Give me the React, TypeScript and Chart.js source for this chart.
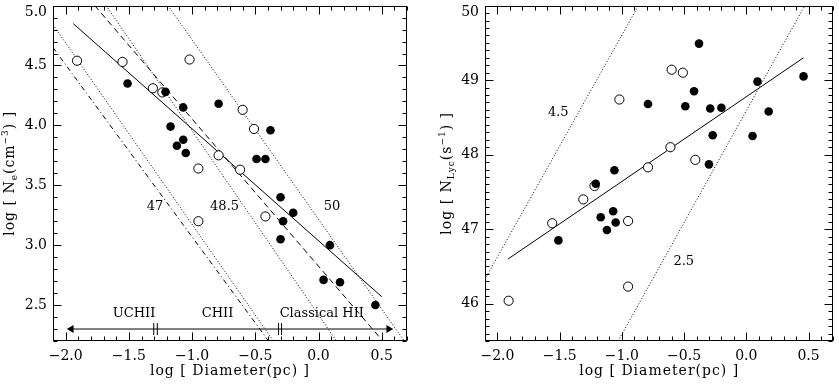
import React, { useEffect, useRef } from "react";
import { Chart, registerables } from "chart.js";

Chart.register(...registerables);

const FONT = "'DejaVu Serif', serif";

// ---------- shared axis ----------
const xTicks = [-2.0, -1.5, -1.0, -0.5, 0.0, 0.5];
const X_MIN = -2.1;
const X_MAX = 0.7;

// ---------- left panel: log Diameter vs log Ne ----------
const leftYTicks = [2.5, 3.0, 3.5, 4.0, 4.5, 5.0];
const leftFilledX = [-1.51, -1.21, -1.07, -0.79, -1.17, -1.07, -1.12, -1.05, -0.38, -0.49, -0.42, -0.30, -0.20, -0.28, -0.30, 0.09, 0.04, 0.17, 0.45];
const leftFilledY = [4.35, 4.28, 4.15, 4.18, 3.99, 3.88, 3.83, 3.77, 3.96, 3.72, 3.72, 3.40, 3.27, 3.20, 3.05, 3.00, 2.71, 2.69, 2.50];
const leftOpenX = [-1.91, -1.55, -1.31, -1.235, -1.02, -0.60, -0.51, -0.79, -0.95, -0.62, -0.95, -0.42];
const leftOpenY = [4.54, 4.53, 4.31, 4.275, 4.55, 4.13, 3.97, 3.75, 3.64, 3.63, 3.20, 3.24];
const leftFitX = [-1.94, 0.50];
const leftFitY = [4.85, 2.57];
const leftDashedX = [-1.77, 0.50];
const leftDashedY = [5.0, 2.21];
const leftDashDotX = [-2.1, -0.395];
const leftDashDotY = [4.65, 2.2];
const line47X = [-2.1, -0.357];
const line47Y = [4.84, 2.2];
const line485X = [-1.68, 0.142];
const line485Y = [5.0, 2.2];
const line50X = [-1.19, 0.678];
const line50Y = [5.0, 2.2];
const arrowX = [-1.955, 0.555];
const arrowY = [2.30, 2.30];
const sepX = [-1.303, -1.275, -0.316, -0.292];
const sepY = [2.25, 2.35];
const leftLabelText = ["47", "48.5", "50", "UCHII", "CHII", "Classical HII"];
const leftLabelX = [-1.293, -0.743, 0.107, -1.459, -0.799, 0.026];
const leftLabelY = [3.32, 3.32, 3.32, 2.43, 2.43, 2.43];

// ---------- right panel: log Diameter vs log N_Lyc ----------
const rightYTicks = [46, 47, 48, 49, 50];
const rightFilledX = [-0.38, -0.79, -0.42, -0.49, -0.29, -0.20, -0.27, 0.09, 0.46, 0.18, 0.05, -0.30, -1.06, -1.21, -1.51, -1.17, -1.07, -1.12, -1.05];
const rightFilledY = [49.49, 48.68, 48.85, 48.65, 48.62, 48.63, 48.26, 48.98, 49.05, 48.58, 48.25, 47.87, 47.79, 47.61, 46.85, 47.16, 47.24, 46.99, 47.09];
const rightOpenX = [-0.60, -0.51, -1.02, -0.61, -0.79, -0.41, -1.22, -1.31, -1.56, -0.95, -0.95, -1.91];
const rightOpenY = [49.14, 49.10, 48.74, 48.10, 47.83, 47.93, 47.58, 47.40, 47.08, 47.11, 46.23, 46.04];
const rightFitX = [-1.915, 0.46];
const rightFitY = [46.60, 49.30];
const line45X = [-2.1, -0.867];
const line45Y = [46.33, 50.0];
const line25X = [-1.03, 0.47];
const line25Y = [45.5, 50.0];
const rightLabelText = ["4.5", "2.5"];
const rightLabelX = [-1.511, -0.503];
const rightLabelY = [48.56, 46.56];

type Seg = { t: string; k?: "sub" | "sup" };

const pts = (xs: number[], ys: number[]) => xs.map((x, i) => ({ x, y: ys[i] }));

const fmt = (v: number, d: number) => {
  const s = Math.abs(v).toFixed(d);
  return v < -1e-9 ? "\u2212" + s : s;
};

function lineDs(xs: number[], ys: number[], dash: number[]) {
  return {
    data: pts(xs, ys),
    showLine: true,
    pointRadius: 0,
    borderColor: "#000",
    borderWidth: 1,
    borderDash: dash,
    fill: false,
    clip: 0,
    order: 5,
  };
}

function pointDs(xs: number[], ys: number[], filled: boolean) {
  return {
    data: pts(xs, ys),
    showLine: false,
    pointRadius: filled ? 4.3 : 4.6,
    pointBackgroundColor: filled ? "#000" : "#fff",
    pointBorderColor: "#000",
    pointBorderWidth: filled ? 0 : 1,
    order: filled ? 0 : 1,
  };
}

interface Panel {
  yMin: number;
  yMax: number;
  yTicks: number[];
  yMajor: number;
  yMinor: number;
  yDec: number;
  yAxisWidth: number;
  padRight: number;
  yTitle: Seg[];
  yTitleX: number;
  datasets: any[];
  labels: { t: string[]; x: number[]; y: number[] };
}

function drawRotTitle(ctx: CanvasRenderingContext2D, segs: Seg[], cx: number, cy: number, size: number) {
  ctx.save();
  ctx.translate(cx, cy);
  ctx.rotate(-Math.PI / 2);
  const small = Math.round(size * 0.62);
  const fonts = segs.map((s) => (s.k ? `${small}px ${FONT}` : `${size}px ${FONT}`));
  const widths = segs.map((s, i) => {
    ctx.font = fonts[i];
    return ctx.measureText(s.t).width;
  });
  const total = widths.reduce((a, b) => a + b, 0);
  let x = -total / 2;
  const base = size * 0.35;
  ctx.fillStyle = "#000";
  ctx.textAlign = "left";
  ctx.textBaseline = "alphabetic";
  segs.forEach((s, i) => {
    ctx.font = fonts[i];
    let y = base;
    if (s.k === "sub") y = base + size * 0.22;
    if (s.k === "sup") y = base - size * 0.45;
    ctx.fillText(s.t, x, y);
    x += widths[i];
  });
  ctx.restore();
}

function panelPlugin(p: Panel) {
  return {
    id: "panelDecor",
    afterDatasetsDraw(chart: any) {
      const { ctx } = chart;
      const xs = chart.scales.x;
      const ys = chart.scales.y;
      ctx.save();
      ctx.fillStyle = "#000";
      ctx.font = `13px ${FONT}`;
      ctx.textAlign = "center";
      ctx.textBaseline = "middle";
      p.labels.t.forEach((t, i) => {
        ctx.fillText(t, xs.getPixelForValue(p.labels.x[i]), ys.getPixelForValue(p.labels.y[i]));
      });
      ctx.restore();
    },
    afterDraw(chart: any) {
      const { ctx, chartArea: a } = chart;
      const xs = chart.scales.x;
      const ys = chart.scales.y;
      ctx.save();
      ctx.strokeStyle = "#000";
      ctx.lineWidth = 1;
      const L = Math.round(a.left) + 0.5;
      const R = Math.round(a.right) - 0.5;
      const T = Math.round(a.top) + 0.5;
      const B = Math.round(a.bottom) - 0.5;
      ctx.strokeRect(L, T, R - L, B - T);
      ctx.beginPath();
      const xMinor = 0.1;
      const xMajor = 0.5;
      const nX = Math.round((X_MAX - X_MIN) / xMinor);
      for (let i = 0; i <= nX; i++) {
        const v = X_MIN + i * xMinor;
        const major = Math.abs(v / xMajor - Math.round(v / xMajor)) < 1e-6;
        const len = major ? 8 : 4;
        const px = Math.round(xs.getPixelForValue(v)) + 0.5;
        ctx.moveTo(px, B);
        ctx.lineTo(px, B - len);
        ctx.moveTo(px, T);
        ctx.lineTo(px, T + len);
      }
      const nY = Math.round((p.yMax - p.yMin) / p.yMinor);
      for (let i = 0; i <= nY; i++) {
        const v = p.yMin + i * p.yMinor;
        const major = Math.abs(v / p.yMajor - Math.round(v / p.yMajor)) < 1e-6;
        const len = major ? 8 : 4;
        const py = Math.round(ys.getPixelForValue(v)) + 0.5;
        ctx.moveTo(L, py);
        ctx.lineTo(L + len, py);
        ctx.moveTo(R, py);
        ctx.lineTo(R - len, py);
      }
      ctx.stroke();
      // axis titles
      ctx.fillStyle = "#000";
      ctx.font = `14px ${FONT}`;
      (ctx as any).letterSpacing = "1px";
      ctx.textAlign = "center";
      ctx.textBaseline = "middle";
      ctx.fillText("log [ Diameter(pc) ]", (a.left + a.right) / 2, 371);
      drawRotTitle(ctx, p.yTitle, p.yTitleX, (a.top + a.bottom) / 2, 14);
      (ctx as any).letterSpacing = "0px";
      ctx.restore();
    },
  };
}

function makeChart(canvas: HTMLCanvasElement, p: Panel) {
  const tickFont = { family: FONT, size: 14, lineHeight: 1.0 };
  return new Chart(canvas, {
    type: "scatter",
    data: { datasets: p.datasets },
    options: {
      responsive: false,
      animation: false,
      devicePixelRatio: 1,
      events: [],
      layout: { padding: { left: 0, right: p.padRight, top: 1, bottom: 0 } },
      plugins: {
        legend: { display: false },
        tooltip: { enabled: false },
        title: { display: false },
      },
      scales: {
        x: {
          type: "linear",
          min: X_MIN,
          max: X_MAX,
          afterBuildTicks: (s: any) => {
            s.ticks = xTicks.map((v) => ({ value: v }));
          },
          afterFit: (s: any) => {
            s.height = 44;
            s.paddingLeft = 0;
            s.paddingRight = 0;
          },
          grid: { display: false, drawTicks: false },
          border: { display: false },
          ticks: {
            padding: 8,
            color: "#000",
            font: tickFont,
            maxRotation: 0,
            autoSkip: false,
            callback: (v: any) => fmt(Number(v), 1),
          },
        },
        y: {
          type: "linear",
          min: p.yMin,
          max: p.yMax,
          afterBuildTicks: (s: any) => {
            s.ticks = p.yTicks.map((v) => ({ value: v }));
          },
          afterFit: (s: any) => {
            s.width = p.yAxisWidth;
            s.paddingTop = 0;
            s.paddingBottom = 0;
          },
          grid: { display: false, drawTicks: false },
          border: { display: false },
          ticks: {
            padding: 6,
            color: "#000",
            font: tickFont,
            autoSkip: false,
            callback: (v: any) => {
              const s = fmt(Number(v), p.yDec);
              return Math.abs(Number(v) - p.yMax) < 1e-9 ? ["", s] : s;
            },
          },
        },
      },
    } as any,
    plugins: [panelPlugin(p)],
  });
}

const leftPanel: Panel = {
  yMin: 2.2,
  yMax: 5.0,
  yTicks: leftYTicks,
  yMajor: 0.5,
  yMinor: 0.1,
  yDec: 1,
  yAxisWidth: 53,
  padRight: 13,
  yTitle: [{ t: "log [ N" }, { t: "e", k: "sub" }, { t: "(cm" }, { t: "\u22123", k: "sup" }, { t: ") ]" }],
  yTitleX: 9,
  datasets: [
    pointDs(leftFilledX, leftFilledY, true),
    pointDs(leftOpenX, leftOpenY, false),
    lineDs(leftFitX, leftFitY, []),
    lineDs(leftDashedX, leftDashedY, [6, 4]),
    lineDs(leftDashDotX, leftDashDotY, [5, 3, 1, 3]),
    lineDs(line47X, line47Y, [1, 2]),
    lineDs(line485X, line485Y, [1, 2]),
    lineDs(line50X, line50Y, [1, 2]),
    lineDs(arrowX, arrowY, []),
    {
      data: pts(arrowX, arrowY),
      showLine: false,
      pointStyle: "triangle",
      pointRadius: 4.5,
      pointRotation: [-90, 90],
      pointBackgroundColor: "#000",
      pointBorderColor: "#000",
      pointBorderWidth: 0,
      order: 0,
    },
    ...sepX.map((sx) => lineDs([sx, sx], sepY, [])),
  ],
  labels: { t: leftLabelText, x: leftLabelX, y: leftLabelY },
};

const rightPanel: Panel = {
  yMin: 45.5,
  yMax: 50,
  yTicks: rightYTicks,
  yMajor: 1,
  yMinor: 0.1,
  yDec: 0,
  yAxisWidth: 65,
  padRight: 2,
  yTitle: [{ t: "log [ N" }, { t: "Lyc", k: "sub" }, { t: "(s" }, { t: "\u22121", k: "sup" }, { t: ") ]" }],
  yTitleX: 26,
  datasets: [
    pointDs(rightFilledX, rightFilledY, true),
    pointDs(rightOpenX, rightOpenY, false),
    lineDs(rightFitX, rightFitY, []),
    lineDs(line45X, line45Y, [1, 2]),
    lineDs(line25X, line25Y, [1, 2]),
  ],
  labels: { t: rightLabelText, x: rightLabelX, y: rightLabelY },
};

export default function App() {
  const leftRef = useRef<HTMLCanvasElement | null>(null);
  const rightRef = useRef<HTMLCanvasElement | null>(null);

  useEffect(() => {
    const c1 = makeChart(leftRef.current!, leftPanel);
    const c2 = makeChart(rightRef.current!, rightPanel);
    return () => {
      c1.destroy();
      c2.destroy();
    };
  }, []);

  return (
    <div style={{ position: "fixed", left: 0, top: 0, width: 839, height: 385, background: "#fff" }}>
      <canvas
        ref={leftRef}
        width={420}
        height={385}
        style={{ position: "absolute", left: 0, top: 0, width: 420, height: 385 }}
      />
      <canvas
        ref={rightRef}
        width={419}
        height={385}
        style={{ position: "absolute", left: 420, top: 0, width: 419, height: 385 }}
      />
    </div>
  );
}
